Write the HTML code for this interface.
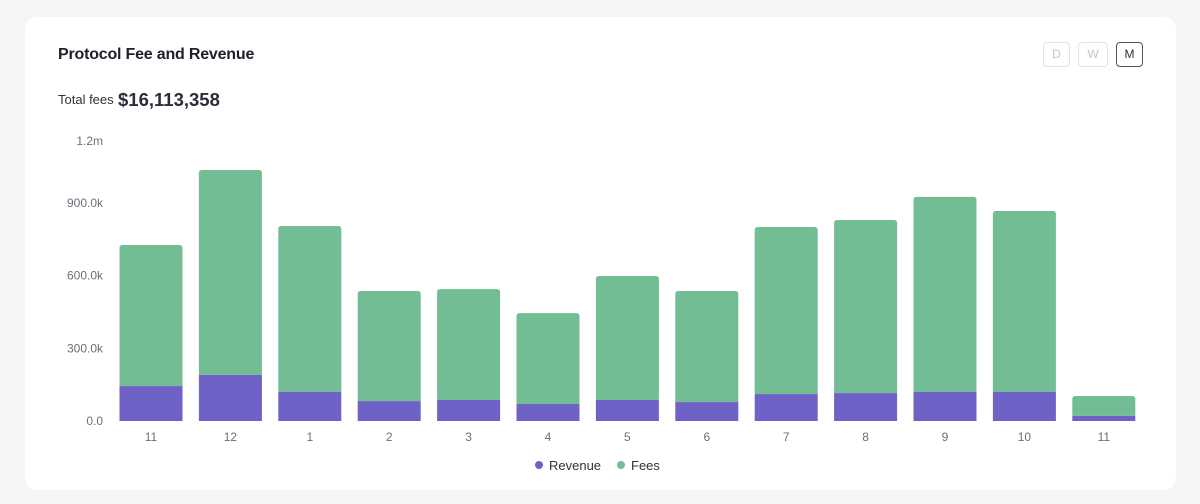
<!DOCTYPE html>
<html><head><meta charset="utf-8"><style>
body{margin:0;width:1200px;height:504px;background:#f4f5f7;font-family:"Liberation Sans",sans-serif;overflow:hidden;position:relative}
.card{position:absolute;left:25px;top:17px;width:1151px;height:473px;background:#fff;border-radius:12px}
.title{position:absolute;left:33px;top:29px;font-size:16px;font-weight:bold;color:#1d1f2a;letter-spacing:-0.2px}
.btn{position:absolute;top:25px;width:25px;height:23px;border:1px solid #e2e3e6;border-radius:4px;font-size:12px;color:#c4c6cc;text-align:center;line-height:23px}
.tf{position:absolute;left:33px;top:75px;font-size:13px;color:#333}
.tv{position:absolute;left:93px;top:72px;font-size:18.5px;font-weight:bold;color:#2a2d3a}
</style></head><body>
<div class="card">
<div class="title">Protocol Fee and Revenue</div>
<div class="btn" style="left:1018px">D</div>
<div class="btn" style="left:1053px;width:28px">W</div>
<div class="btn" style="left:1091px;border-color:#555;color:#333">M</div>
<div class="tf">Total fees</div>
<div class="tv">$16,113,358</div>
</div>
<svg id="chart" width="1200" height="504" style="position:absolute;left:0;top:0"></svg>
<script>
const categories=["11","12","1","2","3","4","5","6","7","8","9","10","11"];
const fees=[726,1035,804,536,544,445,598,536,800,829,924,866,103];
const revenue=[144,190,120,82,87,70,87,78,111,115,120,120,21];
const yTicks=[0,300,600,900,1200];
const yTickLabels=["0.0","300.0k","600.0k","900.0k","1.2m"];
const svg=document.getElementById('chart');
const NS='http://www.w3.org/2000/svg';
const base=421,k=0.2425,x0=151,step=79.4,bw=63;
const y=v=>base-v*k;
const x=i=>x0+i*step;
function mk(t,a){const e=document.createElementNS(NS,t);for(const n in a)e.setAttribute(n,a[n]);svg.appendChild(e);return e;}
yTicks.forEach((v,i)=>{
 const t=mk('text',{x:103,y:Math.max(y(v),141)+4,'text-anchor':'end','font-size':12,fill:'#6b6f7b','font-family':'Liberation Sans'});
 t.textContent=yTickLabels[i];
 
 
});
categories.forEach((c,i)=>{
 const g=mk('path',{d:`M${x(i)-bw/2},${y(revenue[i])} V${y(fees[i])+3} q0,-3 3,-3 H${x(i)+bw/2-3} q3,0 3,3 V${y(revenue[i])} Z`,fill:'#72bd94'});
 
 
 const r=mk('rect',{x:x(i)-bw/2,y:y(revenue[i]),width:bw,height:revenue[i]*k,fill:'#6f62c6'});
 
 
 const t=mk('text',{x:x(i),y:441,'text-anchor':'middle','font-size':12,fill:'#6b6f7b','font-family':'Liberation Sans'});
 t.textContent=c;
 
 
});
const l1=mk('circle',{cx:539,cy:465,r:4,fill:'#6f62c6'});


const lt1=mk('text',{x:549,y:470,'font-size':13,fill:'#333','font-family':'Liberation Sans'});lt1.textContent='Revenue';


const l2=mk('circle',{cx:621,cy:465,r:4,fill:'#72bd94'});


const lt2=mk('text',{x:631,y:470,'font-size':13,fill:'#333','font-family':'Liberation Sans'});lt2.textContent='Fees';


</script>
</body></html>
